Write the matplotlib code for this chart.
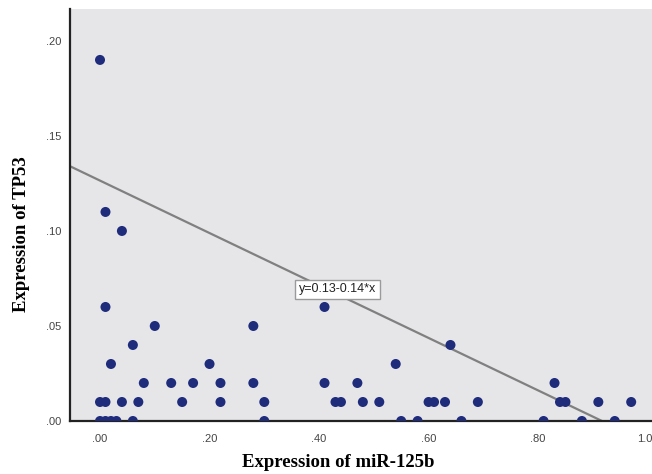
import matplotlib
matplotlib.use("Agg")
import matplotlib.pyplot as plt
import numpy as np
from matplotlib.ticker import FuncFormatter, MultipleLocator

# Puntos (miR-125b, TP53)
mir125b = [0.00, 0.01, 0.04, 0.01, 0.41, 0.10, 0.28, 0.06, 0.64, 0.02, 0.20, 0.54,
           0.08, 0.13, 0.17, 0.22, 0.28, 0.41, 0.47, 0.83,
           0.00, 0.01, 0.04, 0.07, 0.15, 0.22, 0.30, 0.43, 0.44, 0.48, 0.51, 0.60,
           0.61, 0.63, 0.69, 0.84, 0.85, 0.91, 0.97,
           0.00, 0.01, 0.02, 0.03, 0.06, 0.30, 0.55, 0.58, 0.66, 0.81, 0.88, 0.94]
tp53 = [0.19, 0.11, 0.10, 0.06, 0.06, 0.05, 0.05, 0.04, 0.04, 0.03, 0.03, 0.03,
        0.02, 0.02, 0.02, 0.02, 0.02, 0.02, 0.02, 0.02,
        0.01, 0.01, 0.01, 0.01, 0.01, 0.01, 0.01, 0.01, 0.01, 0.01, 0.01, 0.01,
        0.01, 0.01, 0.01, 0.01, 0.01, 0.01, 0.01,
        0.00, 0.00, 0.00, 0.00, 0.00, 0.00, 0.00, 0.00, 0.00, 0.00, 0.00, 0.00]

# Recta de ajuste mostrada en el gráfico
fit_intercept = 0.1265
fit_slope = -0.138
fit_label = "y=0.13-0.14*x"

XMIN, XMAX = -0.0548, 1.008
YMIN, YMAX = 0.0, 0.2168


def _fmt(v, pos):
    return f"{v:.2f}".lstrip("0") if v < 1 else f"{v:.2f}"


fig = plt.figure(figsize=(6.52, 4.74), dpi=100)
ax = fig.add_axes([70 / 652, 53 / 474, 582 / 652, 412 / 474])
ax.set_facecolor("#e6e6e9")

ax.scatter(mir125b, tp53, s=52, color="#1f2c7c", edgecolors="none", zorder=3)

xs = np.array([XMIN, XMAX])
ax.plot(xs, fit_intercept + fit_slope * xs, color="#808080", lw=1.6, zorder=2)
ax.text(0.434, 0.0692, fit_label, ha="center", va="center", fontsize=9,
        family="Liberation Sans", color="#222222", zorder=4,
        bbox=dict(boxstyle="square,pad=0.3", fc="white", ec="#9a9a9a", lw=1))

ax.set_xlim(XMIN, XMAX)
ax.set_ylim(YMIN, YMAX)
ax.xaxis.set_major_locator(MultipleLocator(0.2))
ax.yaxis.set_major_locator(MultipleLocator(0.05))
ax.xaxis.set_major_formatter(FuncFormatter(_fmt))
ax.yaxis.set_major_formatter(FuncFormatter(_fmt))
ax.tick_params(length=0, labelsize=8, labelcolor="#444444")
ax.tick_params(axis="x", pad=9)
ax.tick_params(axis="y", pad=6)
for lab in ax.get_xticklabels() + ax.get_yticklabels():
    lab.set_family("Liberation Sans")

for side in ("top", "right"):
    ax.spines[side].set_visible(False)
for side in ("left", "bottom"):
    ax.spines[side].set_linewidth(1.6)
    ax.spines[side].set_color("#222222")

ax.set_xlabel("Expression of miR-125b", family="Liberation Serif",
              fontweight="bold", fontsize=13.5)
ax.set_ylabel("Expression of TP53", family="Liberation Serif",
              fontweight="bold", fontsize=13.5)
ax.xaxis.set_label_coords(0.461, -0.081)
ax.yaxis.set_label_coords(-0.069, 0.454)

fig.savefig("out.png", dpi=100)
